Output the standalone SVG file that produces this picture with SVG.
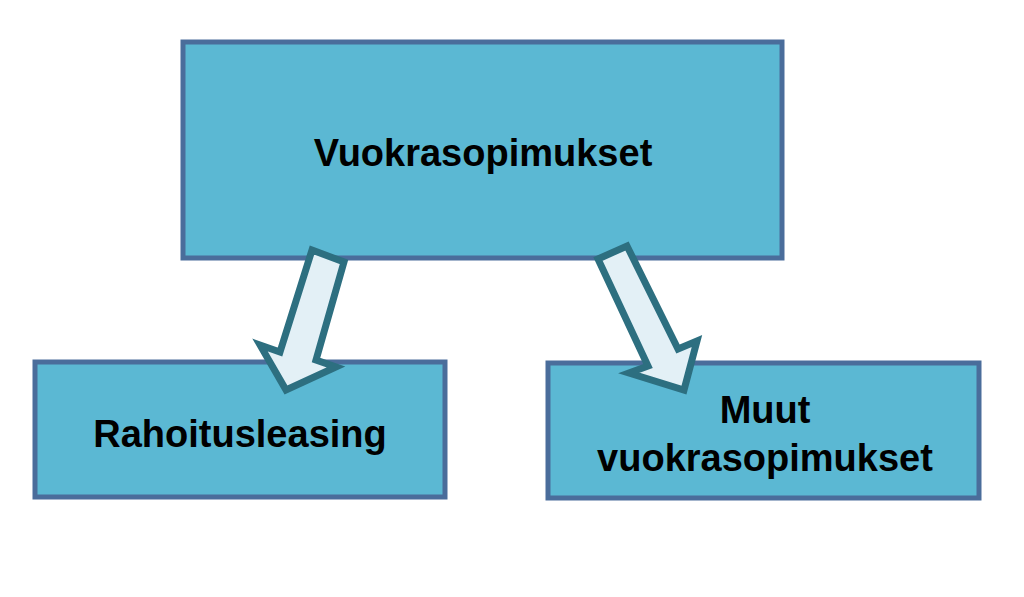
<svg xmlns="http://www.w3.org/2000/svg" width="1024" height="597" viewBox="0 0 1024 597">
<style>
.box{fill:#5bb8d3;stroke:#4a6d9b;stroke-width:5}
.t{font-family:"Liberation Sans",Arial,sans-serif;font-weight:bold;font-size:38px;fill:#000;text-anchor:middle}
.arr{fill:#e3f0f6;stroke:#2d6f80;stroke-width:7;stroke-linejoin:miter}
</style>
<rect width="1024" height="597" fill="#fff"/>
<g id="n1"><rect class="box" x="183" y="42" width="599" height="216"/><text class="t" x="483" y="166">Vuokrasopimukset</text></g>
<g id="n2"><rect class="box" x="35" y="362" width="410" height="135"/><text class="t" x="240" y="447">Rahoitusleasing</text></g>
<g id="n3"><rect class="box" x="548" y="363" width="431" height="135"/><text class="t" x="765" y="423">Muut</text><text class="t" x="765" y="471">vuokrasopimukset</text></g>
<g id="connectors">
<polygon class="arr" points="312,250 344,262 316,360 336,367 286,390 260,345 280,352"/>
<polygon class="arr" points="598,259 627,246 678,349 697,341 684,390 629,373 648,366"/>
</g>
</svg>
